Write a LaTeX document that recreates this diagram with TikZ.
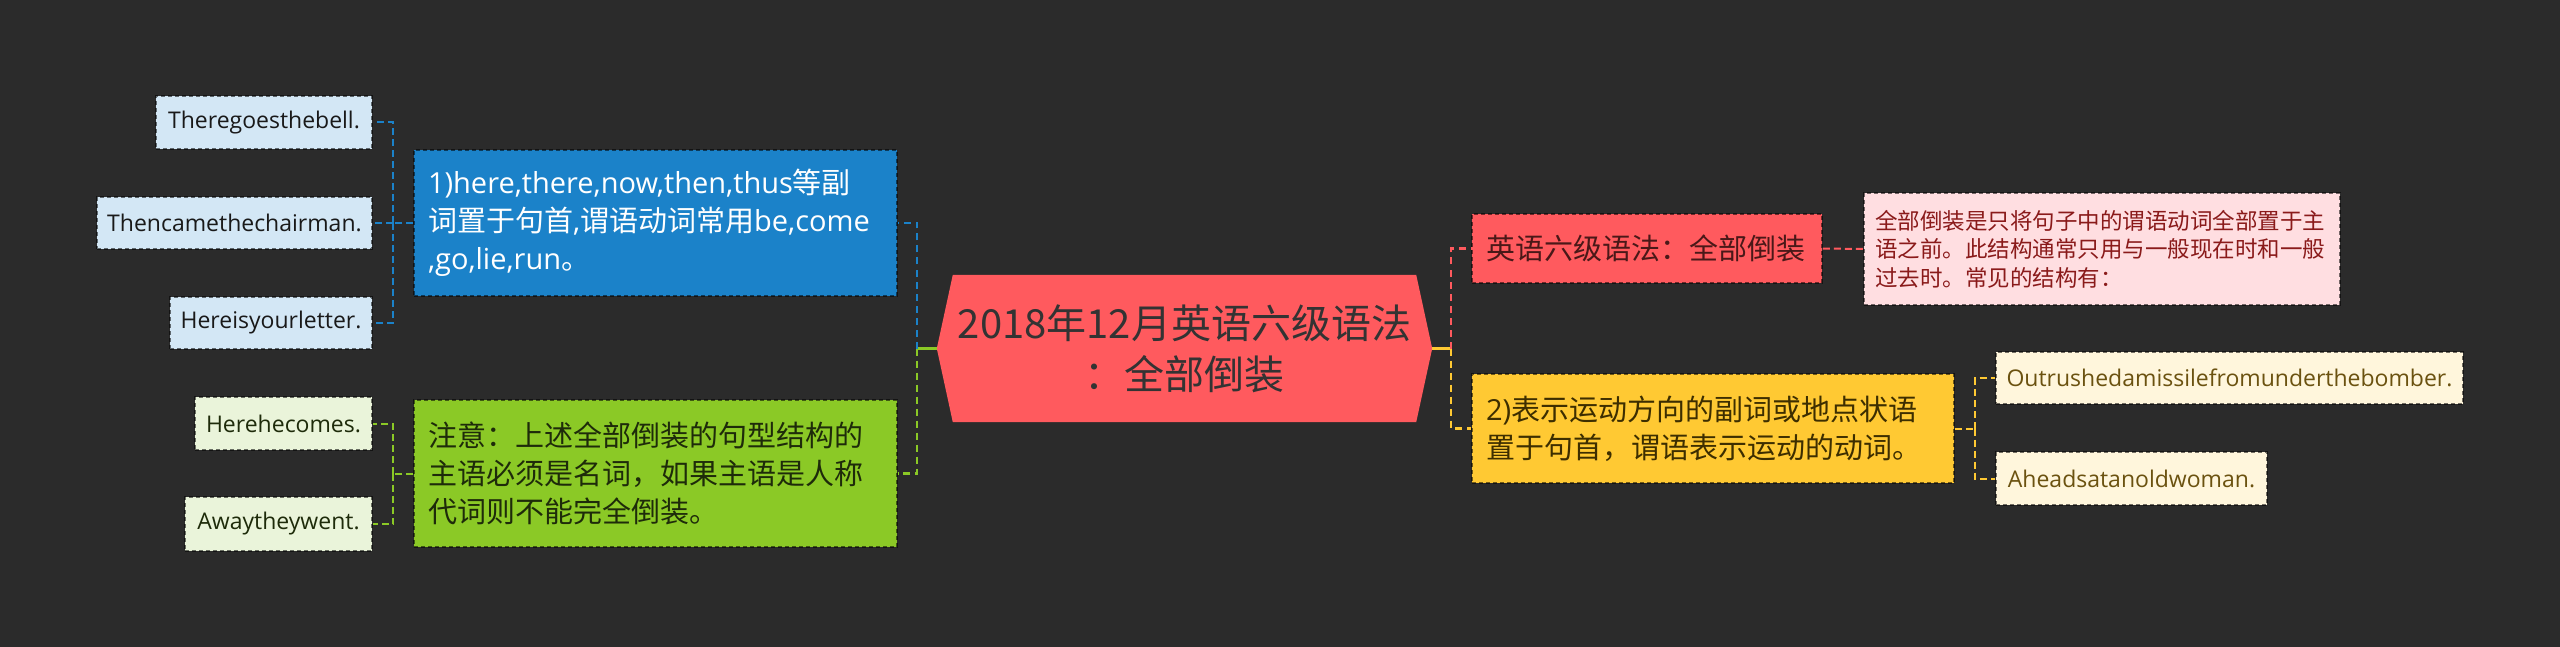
\documentclass[tikz,border=0pt]{standalone}
\usepackage{fontspec}
\setmainfont{Noto Sans CJK SC}
\newfontfamily\lat{Open Sans}
\usetikzlibrary{calc}
\pgfdeclarelayer{bgl}
\pgfsetlayers{bgl,main}
\definecolor{bgC}{HTML}{2B2B2B}
\definecolor{redC}{HTML}{FF5A5E}
\definecolor{blueC}{HTML}{1B82C9}
\definecolor{greenC}{HTML}{8BC926}
\definecolor{yellowC}{HTML}{FFC933}
\definecolor{blueL}{HTML}{D3E7F5}
\definecolor{greenL}{HTML}{EAF4DA}
\definecolor{yellowL}{HTML}{FFF6DC}
\definecolor{redL}{HTML}{FFDEE1}
\definecolor{darkT}{HTML}{333333}
\definecolor{redT}{HTML}{4A1818}
\definecolor{detT}{HTML}{8A1A1A}
\definecolor{greenT}{HTML}{1E2B0A}
\definecolor{yellowT}{HTML}{3D2E00}
\definecolor{yleafT}{HTML}{6B5210}
\tikzset{
  boxborder/.style={draw=black, draw opacity=0.55, line width=1.5pt, dash pattern=on 4pt off 3pt},
  midbox/.style={boxborder, rectangle, inner xsep=14pt, inner ysep=0pt, align=left,
     font=\fontsize{29}{38}\selectfont},
  leaf/.style={boxborder, rectangle, inner xsep=8pt, inner ysep=0pt, align=center,
     font=\fontsize{23}{28}\selectfont\lat},
  con/.style={line width=2.5pt, dash pattern=on 7pt off 5pt},
  lcon/.style={line width=2pt, dash pattern=on 7pt off 4pt},
}
\begin{document}
\begin{tikzpicture}[x=1pt,y=-1pt]
\useasboundingbox (0,0) rectangle (2560,647);

% central
\node[minimum width=495pt, minimum height=147pt, inner sep=0pt, align=center,
      text=darkT, font=\fontsize{40}{51}\selectfont] (c) at (1184.5,348.5)
      {2018年12月英语六级语法\\：全部倒装};
\begin{pgfonlayer}{bgl}
\fill[bgC] (0,0) rectangle (2560,647);
\fill[redC] (c.west) -- ($(c.north west)+(16,0)$) -- ($(c.north east)+(-16,0)$)
  -- (c.east) -- ($(c.south east)+(-16,0)$) -- ($(c.south west)+(16,0)$) -- cycle;
\end{pgfonlayer}

% left main boxes
\node[midbox, fill=blueC, text=white, text width=455pt, minimum height=146pt] (blue) at (655.5,223)
  {{\lat 1)here,there,now,then,thus}等副\\词置于句首{\lat ,}谓语动词常用{\lat be,come}\\{\lat ,go,lie,run}。};
\node[midbox, fill=greenC, text=greenT, text width=455pt, minimum height=147pt] (green) at (655.5,473.5)
  {注意：上述全部倒装的句型结构的\\主语必须是名词，如果主语是人称\\代词则不能完全倒装。};

% blue leaves
\node[leaf, fill=blueL, text=black!90, minimum width=216pt, minimum height=53pt] (a1) at (264,122.5) {Theregoesthebell.};
\node[leaf, fill=blueL, text=black!90, minimum width=275pt, minimum height=52pt] (a2) at (234.5,223) {Thencamethechairman.};
\node[leaf, fill=blueL, text=black!90, minimum width=202pt, minimum height=52pt] (a3) at (271,323) {Hereisyourletter.};
% green leaves
\node[leaf, fill=greenL, text=greenT, minimum width=177pt, minimum height=53pt] (g1) at (283.5,423.5) {Herehecomes.};
\node[leaf, fill=greenL, text=greenT, minimum width=187pt, minimum height=54pt] (g2) at (278.5,524) {Awaytheywent.};

% right main boxes
\node[midbox, fill=redC, text=redT, text width=322pt, minimum height=69pt] (red) at (1647,248.5)
  {英语六级语法：全部倒装};
\node[boxborder, rectangle, fill=redL, text=detT, inner xsep=11pt, inner ysep=0pt, align=left,
      text width=454pt, minimum height=112pt, font=\fontsize{22.5}{28.5}\selectfont] (det) at (2102,249)
  {全部倒装是只将句子中的谓语动词全部置于主\\语之前。此结构通常只用与一般现在时和一般\\过去时。常见的结构有：};
\node[midbox, fill=yellowC, text=yellowT, text width=454pt, minimum height=109pt] (yellow) at (1713,428.5)
  {{\lat 2)}表示运动方向的副词或地点状语\\置于句首，谓语表示运动的动词。};
% yellow leaves
\node[leaf, fill=yellowL, text=yleafT, minimum width=467pt, minimum height=52pt] (y1) at (2229.5,378) {Outrushedamissilefromunderthebomber.};
\node[leaf, fill=yellowL, text=yleafT, minimum width=271pt, minimum height=53pt] (y2) at (2131.5,478.5) {Aheadsatanoldwoman.};

% connector points
\coordinate (cl) at (917,348.5);
\coordinate (cr) at (1451,348.5);
\coordinate (bl) at (393,223);
\coordinate (gl) at (393,473.5);
\coordinate (yl) at (1975,428.5);

% central connectors
\draw[greenC, line width=2.5pt] (c.west) -- (cl);
\draw[yellowC, line width=2.5pt] (c.east) -- (cr);
\draw[con, blueC] (cl) |- (blue.east);
\draw[con, greenC] (cl) |- (green.east);
\draw[con, redC] (cr) |- (red.west);
\draw[con, yellowC] (cr) |- (yellow.west);

% leaf connectors
\draw[lcon, blueC] (blue.west) -- (bl);
\draw[lcon, blueC] (bl) |- (a1.east);
\draw[lcon, blueC] (bl) |- (a2.east);
\draw[lcon, blueC] (bl) |- (a3.east);
\draw[lcon, greenC] (green.west) -- (gl);
\draw[lcon, greenC] (gl) |- (g1.east);
\draw[lcon, greenC] (gl) |- (g2.east);
\draw[lcon, redC] (red.east) -- (det.west);
\draw[lcon, yellowC] (yellow.east) -- (yl);
\draw[lcon, yellowC] (yl) |- (y1.west);
\draw[lcon, yellowC] (yl) |- (y2.west);
\end{tikzpicture}
\end{document}
